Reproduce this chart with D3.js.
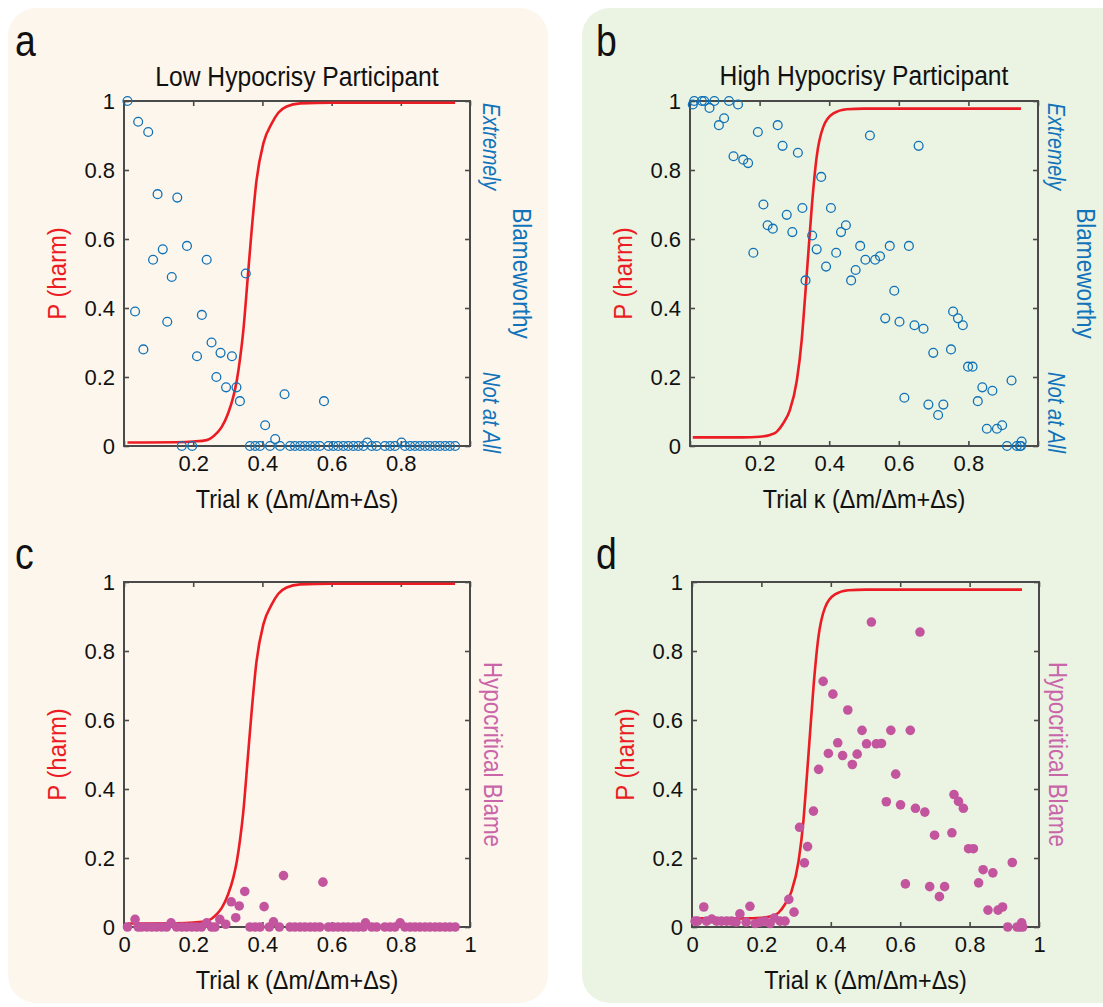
<!DOCTYPE html>
<html><head><meta charset="utf-8">
<script src="https://cdn.jsdelivr.net/npm/d3@7/dist/d3.min.js"></script>
<style>body{margin:0;background:#fff;} svg{display:block;}</style>
</head><body><svg id="chart" width="1103" height="1007"></svg>
<script>
// ---------- DATA ----------
const xTicks = [0, 0.2, 0.4, 0.6, 0.8, 1];
const yTicks = [0, 0.2, 0.4, 0.6, 0.8, 1];
const xTickLabelsTop = [0.2, 0.4, 0.6, 0.8];
const xTickLabelsBottom = [0, 0.2, 0.4, 0.6, 0.8, 1];

// fitted P(harm) curve, low hypocrisy participant
const curveKappaLow = [0.010, 0.150, 0.200, 0.239, 0.268, 0.283, 0.301, 0.316, 0.326, 0.335, 0.345, 0.357, 0.369, 0.383, 0.403, 0.427, 0.446, 0.470, 0.509, 0.600, 0.957];
const curvePLow     = [0.010, 0.011, 0.013, 0.017, 0.037, 0.056, 0.095, 0.143, 0.190, 0.250, 0.336, 0.480, 0.626, 0.770, 0.878, 0.935, 0.966, 0.984, 0.993, 0.995, 0.995];

// fitted P(harm) curve, high hypocrisy participant
const curveKappaHigh = [0.008, 0.150, 0.200, 0.230, 0.249, 0.268, 0.287, 0.307, 0.321, 0.330, 0.340, 0.350, 0.364, 0.383, 0.412, 0.450, 0.500, 0.951];
const curvePHigh     = [0.025, 0.025, 0.027, 0.032, 0.041, 0.066, 0.104, 0.190, 0.307, 0.423, 0.559, 0.694, 0.838, 0.925, 0.964, 0.976, 0.978, 0.978];

// panel a: blameworthiness ratings (low hypocrisy)
const kappaA = [0.010, 0.041, 0.070, 0.097, 0.154, 0.032, 0.056, 0.084, 0.112, 0.138, 0.125, 0.182, 0.239, 0.225, 0.211, 0.253, 0.279, 0.312, 0.267, 0.295, 0.325, 0.335, 0.352, 0.408, 0.437, 0.464, 0.578, 0.167, 0.197, 0.703, 0.802,
  0.364, 0.379, 0.393, 0.422, 0.451, 0.480, 0.494, 0.509, 0.523, 0.538, 0.552, 0.566, 0.591, 0.605, 0.619, 0.634, 0.648, 0.663, 0.677, 0.692, 0.716, 0.730, 0.754, 0.769, 0.783, 0.812, 0.827, 0.841, 0.855, 0.870, 0.884, 0.899, 0.913, 0.928, 0.942, 0.957];
const blameA = [1.00, 0.94, 0.91, 0.73, 0.72, 0.39, 0.28, 0.54, 0.57, 0.49, 0.36, 0.58, 0.54, 0.38, 0.26, 0.30, 0.27, 0.26, 0.20, 0.17, 0.17, 0.13, 0.50, 0.06, 0.02, 0.15, 0.13, 0, 0, 0.01, 0.01,
  0, 0, 0, 0, 0, 0, 0, 0, 0, 0, 0, 0, 0, 0, 0, 0, 0, 0, 0, 0, 0, 0, 0, 0, 0, 0, 0, 0, 0, 0, 0, 0, 0, 0, 0, 0];

// panel b: blameworthiness ratings (high hypocrisy)
const kappaB = [0.008, 0.012, 0.034, 0.041, 0.056, 0.070, 0.112, 0.138, 0.083, 0.098, 0.125, 0.153, 0.167, 0.195, 0.252, 0.266, 0.310, 0.377, 0.182, 0.211, 0.223, 0.238, 0.278, 0.294, 0.323, 0.351, 0.364, 0.332, 0.391, 0.405, 0.420, 0.434, 0.448, 0.463, 0.476, 0.489, 0.504, 0.517, 0.532, 0.546, 0.574, 0.587, 0.561, 0.602, 0.629, 0.645, 0.657, 0.671, 0.616, 0.685, 0.699, 0.713, 0.728, 0.750, 0.756, 0.770, 0.784, 0.799, 0.812, 0.827, 0.840, 0.853, 0.869, 0.882, 0.897, 0.911, 0.924, 0.939, 0.948, 0.951, 0.953];
const blameB = [0.99, 1.00, 1.00, 1.00, 0.98, 1.00, 1.00, 0.99, 0.93, 0.95, 0.84, 0.83, 0.82, 0.91, 0.93, 0.87, 0.85, 0.78, 0.56, 0.70, 0.64, 0.63, 0.67, 0.62, 0.69, 0.61, 0.57, 0.48, 0.52, 0.69, 0.56, 0.62, 0.64, 0.48, 0.51, 0.58, 0.54, 0.90, 0.54, 0.55, 0.58, 0.45, 0.37, 0.36, 0.58, 0.35, 0.87, 0.34, 0.14, 0.12, 0.27, 0.09, 0.12, 0.28, 0.39, 0.37, 0.35, 0.23, 0.23, 0.13, 0.17, 0.05, 0.16, 0.05, 0.06, 0.00, 0.19, 0.00, 0.00, 0.00, 0.013];

// panel c: hypocritical blame (low hypocrisy)
const kappaC = [0.010, 0.032, 0.041, 0.051, 0.066, 0.080, 0.094, 0.109, 0.123, 0.136, 0.152, 0.167, 0.181, 0.196, 0.210, 0.224, 0.239, 0.253, 0.263, 0.277, 0.294, 0.310, 0.323, 0.333, 0.349, 0.364, 0.379, 0.393, 0.405, 0.420, 0.432, 0.449, 0.461, 0.480, 0.494, 0.509, 0.523, 0.538, 0.552, 0.566, 0.575, 0.591, 0.605, 0.619, 0.634, 0.648, 0.663, 0.677, 0.692, 0.698, 0.716, 0.730, 0.754, 0.769, 0.783, 0.798, 0.812, 0.827, 0.841, 0.855, 0.870, 0.884, 0.899, 0.913, 0.928, 0.942, 0.957];
const hypoC  = [0, 0.022, 0, 0, 0, 0, 0, 0, 0, 0.012, 0, 0, 0, 0, 0, 0, 0.012, 0, 0, 0.022, 0.008, 0.073, 0.027, 0.061, 0.103, 0, 0, 0, 0.059, 0, 0.015, 0, 0.149, 0, 0, 0, 0, 0, 0, 0, 0.130, 0, 0, 0, 0, 0, 0, 0, 0, 0.012, 0, 0, 0, 0, 0, 0.012, 0, 0, 0, 0, 0, 0, 0, 0, 0, 0, 0];

// panel d: hypocritical blame (high hypocrisy)
const kappaD = [0.009, 0.016, 0.034, 0.042, 0.057, 0.071, 0.085, 0.100, 0.114, 0.127, 0.138, 0.156, 0.167, 0.182, 0.196, 0.210, 0.225, 0.237, 0.254, 0.268, 0.279, 0.294, 0.310, 0.324, 0.333, 0.350, 0.365, 0.378, 0.393, 0.406, 0.420, 0.434, 0.449, 0.462, 0.476, 0.490, 0.503, 0.517, 0.531, 0.546, 0.560, 0.573, 0.587, 0.601, 0.615, 0.629, 0.644, 0.657, 0.671, 0.685, 0.699, 0.713, 0.728, 0.749, 0.755, 0.768, 0.782, 0.797, 0.811, 0.826, 0.839, 0.853, 0.867, 0.882, 0.895, 0.910, 0.923, 0.937, 0.945, 0.950, 0.953];
const hypoD  = [0.017, 0.017, 0.058, 0.017, 0.023, 0.017, 0.017, 0.017, 0.017, 0.014, 0.038, 0.014, 0.060, 0.010, 0.014, 0.017, 0.010, 0.026, 0.017, 0.017, 0.080, 0.043, 0.289, 0.186, 0.233, 0.336, 0.457, 0.712, 0.503, 0.675, 0.534, 0.497, 0.629, 0.471, 0.501, 0.570, 0.531, 0.884, 0.531, 0.532, 0.363, 0.570, 0.443, 0.354, 0.125, 0.570, 0.344, 0.855, 0.333, 0.117, 0.266, 0.088, 0.117, 0.273, 0.384, 0.364, 0.344, 0.227, 0.227, 0.128, 0.166, 0.049, 0.157, 0.049, 0.058, 0.000, 0.187, 0.000, 0.000, 0.012, 0.000];

// ---------- STYLE ----------
const FONT = "'Liberation Sans',Arial,sans-serif";
const SX = 0.87; // horizontal condensing of the label typeface
const RED = "#ec1c24", BLUE = "#0f72b9", BLUE_TXT = "#1174bb", MAG = "#c3559f", MAG_TXT = "#c965a9", AXIS = "#4a4a4a";

const svg = d3.select("#chart");
svg.append("rect").attr("x", 8).attr("y", 8).attr("width", 540).attr("height", 995).attr("rx", 28).attr("fill", "#fdf6ec");
svg.append("rect").attr("x", 582).attr("y", 8).attr("width", 560).attr("height", 995).attr("rx", 28).attr("fill", "#ebf3e3");

const fmt = d => (d === 0 ? "0" : d === 1 ? "1" : d3.format(".1f")(d));

function label(txt, x, y, o) {
  const t = svg.append("text")
    .attr("transform", `translate(${x},${y}) rotate(${o.rot || 0}) scale(${o.sx || SX},1)`)
    .attr("text-anchor", o.anchor || "middle")
    .attr("font-family", FONT).attr("font-size", o.size).attr("fill", o.fill || "#111")
    .text(txt);
  if (o.central) t.attr("dominant-baseline", "central");
  if (o.italic) t.attr("font-style", "italic");
  return t;
}

function panel(o) {
  const x = d3.scaleLinear().domain([0, 1]).range([o.left, o.right]);
  const y = d3.scaleLinear().domain([0, 1]).range([o.bottom, o.top]);
  const g = svg.append("g");

  // ticks (inward on all sides)
  const labelSet = new Set(o.xLabels);
  const bottomAxis = d3.axisBottom(x).tickValues(xTicks).tickSizeInner(-5).tickSizeOuter(0).tickPadding(9)
    .tickFormat(d => labelSet.has(d) ? fmt(d) : "");
  const leftAxis = d3.axisLeft(y).tickValues(yTicks).tickSizeInner(-5).tickSizeOuter(0).tickPadding(9).tickFormat(fmt);
  const topAxis = d3.axisTop(x).tickValues(xTicks).tickSizeInner(-5).tickSizeOuter(0).tickFormat("");
  const rightAxis = d3.axisRight(y).tickValues(yTicks).tickSizeInner(-5).tickSizeOuter(0).tickFormat("");

  const axes = [
    g.append("g").attr("transform", `translate(0,${o.bottom})`).call(bottomAxis),
    g.append("g").attr("transform", `translate(${o.left},0)`).call(leftAxis),
    g.append("g").attr("transform", `translate(0,${o.top})`).call(topAxis),
    g.append("g").attr("transform", `translate(${o.right},0)`).call(rightAxis)
  ];
  axes.forEach(a => {
    a.select(".domain").remove();
    a.selectAll("line").attr("stroke", AXIS).attr("stroke-width", 1.6);
    a.selectAll("text").attr("font-family", FONT).attr("font-size", 22).attr("fill", "#111");
  });
  g.append("rect").attr("x", o.left).attr("y", o.top).attr("width", o.right - o.left).attr("height", o.bottom - o.top)
    .attr("fill", "none").attr("stroke", AXIS).attr("stroke-width", 2);

  // fitted curve
  const line = d3.line().x((d, i) => x(o.curveK[i])).y(d => y(d)).curve(d3.curveMonotoneX);
  g.append("path").attr("d", line(o.curveP)).attr("fill", "none").attr("stroke", RED).attr("stroke-width", 2.6);

  // points
  const pts = o.ptsK.map((k, i) => [k, o.ptsV[i]]);
  const c = g.selectAll("circle.pt").data(pts).join("circle").attr("class", "pt")
    .attr("cx", d => x(d[0])).attr("cy", d => y(d[1]));
  if (o.filled) c.attr("r", 4.8).attr("fill", MAG);
  else c.attr("r", 4.4).attr("fill", "none").attr("stroke", BLUE).attr("stroke-width", 1.3);

  // panel letter & title
  label(o.letter, o.letterX, o.letterY, { size: 44, anchor: "start", sx: 0.85 });
  if (o.title) label(o.title, (o.left + o.right) / 2, o.titleY, { size: 28, sx: 0.88 });

  // axis labels
  label("Trial κ (Δm/Δm+Δs)", (o.left + o.right) / 2, o.bottom + 62, { size: 26, sx: 0.9 });
  label("P (harm)", o.left - 67, (o.top + o.bottom) / 2, { size: 26, rot: -90, central: true, fill: RED, sx: 0.92 });

  if (!o.filled) {
    label("Extremely", o.right + o.extOff, o.top + 2, { size: 24, rot: 90, central: true, anchor: "start", italic: true, fill: BLUE_TXT, sx: 0.82 });
    label("Not at All", o.right + o.extOff, o.bottom + 7, { size: 24, rot: 90, central: true, anchor: "end", italic: true, fill: BLUE_TXT, sx: 0.84 });
    label("Blameworthy", o.right + o.blameOff, (o.top + o.bottom) / 2, { size: 26, rot: 90, central: true, fill: BLUE_TXT, sx: 0.87 });
  } else {
    label("Hypocritical Blame", o.right + o.hypoOff, (o.top + o.bottom) / 2, { size: 26, rot: 90, central: true, fill: MAG_TXT, sx: 0.86 });
  }
}

panel({ left: 124, right: 470, top: 101, bottom: 446, letter: "a", letterX: 15, letterY: 56, title: "Low Hypocrisy Participant", titleY: 86,
  xLabels: xTickLabelsTop, curveK: curveKappaLow, curveP: curvePLow, ptsK: kappaA, ptsV: blameA, filled: false, extOff: 21, blameOff: 52 });
panel({ left: 690, right: 1038, top: 101, bottom: 446, letter: "b", letterX: 596, letterY: 56, title: "High Hypocrisy Participant", titleY: 85,
  xLabels: xTickLabelsTop, curveK: curveKappaHigh, curveP: curvePHigh, ptsK: kappaB, ptsV: blameB, filled: false, extOff: 18, blameOff: 48 });
panel({ left: 124, right: 470, top: 582, bottom: 927, letter: "c", letterX: 15, letterY: 569,
  xLabels: xTickLabelsBottom, curveK: curveKappaLow, curveP: curvePLow, ptsK: kappaC, ptsV: hypoC, filled: true, hypoOff: 23 });
panel({ left: 692, right: 1039, top: 582, bottom: 927, letter: "d", letterX: 596, letterY: 569,
  xLabels: xTickLabelsBottom, curveK: curveKappaHigh, curveP: curvePHigh, ptsK: kappaD, ptsV: hypoD, filled: true, hypoOff: 19 });
</script>
</body></html>
